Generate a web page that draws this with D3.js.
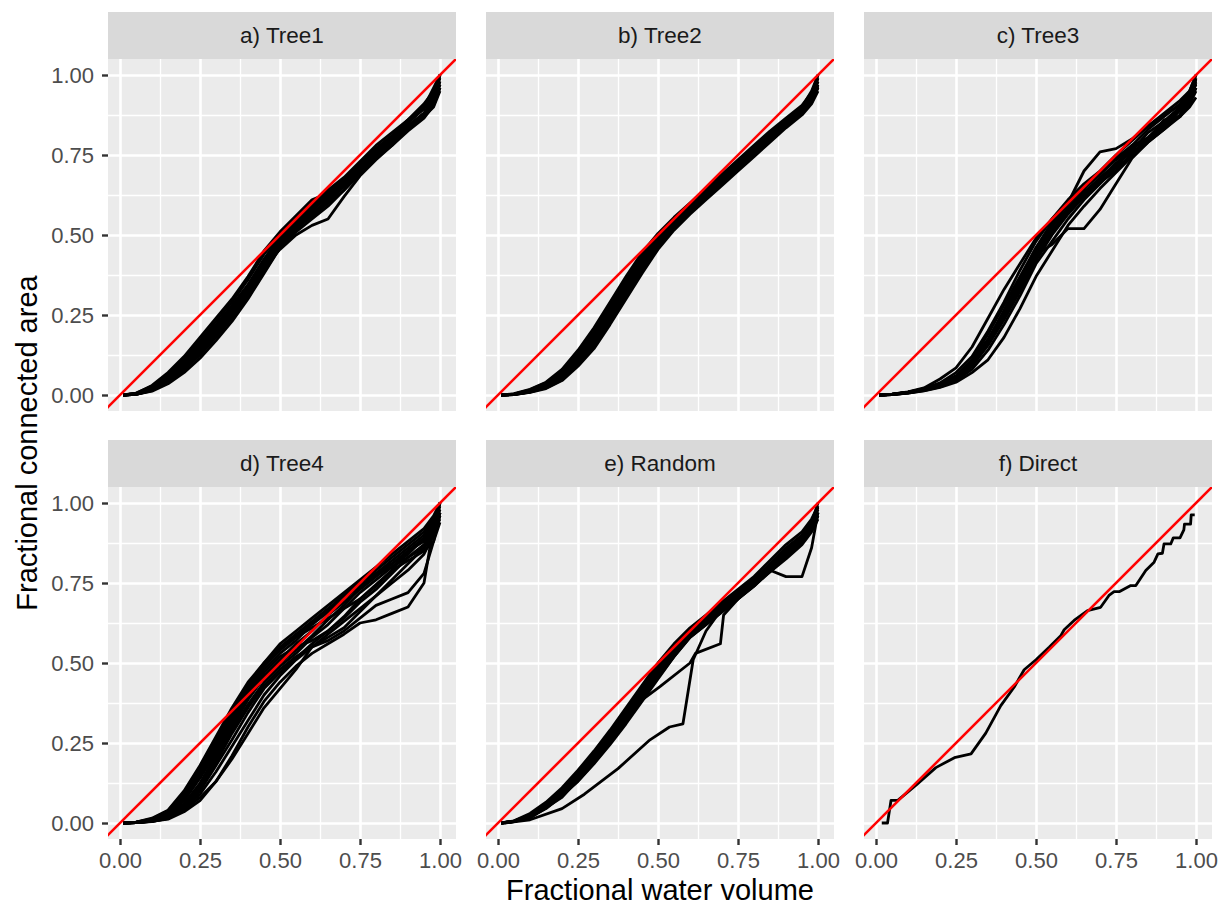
<!DOCTYPE html>
<html>
<head>
<meta charset="utf-8">
<script src="https://d3js.org/d3.v7.min.js"></script>
<style>
  body { margin: 0; background: #fff; }
  svg text { font-family: "Liberation Sans", Arial, Helvetica, sans-serif; }
  .gridlines .domain { stroke: none; }
  .gridlines line { stroke: #fff; }
  .axis .domain { display: none; }
  .axis line { stroke: #333333; stroke-width: 2.4; }
  .axis text { fill: #4D4D4D; font-size: 22px; }
</style>
</head>
<body>
<svg id="chart" width="1220" height="906"></svg>
<script>
// panel titles, axis labels
const panelLabels = ["a) Tree1", "b) Tree2", "c) Tree3", "d) Tree4", "e) Random", "f) Direct"];
const xTitle = "Fractional water volume";
const yTitle = "Fractional connected area";
const majorTicks = [0, 0.25, 0.5, 0.75, 1];
const minorTicks = [0.125, 0.375, 0.625, 0.875];

// shared water volume values for the tree / random runs
const volumeGrid = [0.01, 0.05, 0.1, 0.15, 0.2, 0.25, 0.3, 0.35, 0.4, 0.45, 0.5, 0.55, 0.6, 0.65, 0.7, 0.75, 0.8, 0.85, 0.9, 0.95, 0.98, 1.0];

const tree1Curves = [
  [0, .002, .015, .04, .08, .13, .19, .25, .32, .40, .47, .52, .56, .61, .65, .70, .75, .79, .84, .88, .92, .97],
  [0, .004, .025, .06, .11, .17, .23, .29, .36, .44, .50, .54, .58, .62, .66, .71, .76, .80, .85, .90, .94, 1.0],
  [0, .003, .02, .05, .09, .14, .20, .27, .34, .42, .49, .53, .57, .60, .64, .69, .74, .78, .83, .87, .91, .96],
  [0, .005, .03, .07, .12, .18, .24, .30, .37, .45, .51, .56, .61, .63, .67, .72, .77, .81, .86, .91, .95, .99],
  [0, .002, .012, .035, .07, .115, .17, .23, .30, .38, .46, .51, .55, .59, .64, .70, .75, .80, .84, .88, .93, 1.0],
  [0, .003, .018, .045, .085, .135, .185, .245, .31, .39, .465, .525, .575, .625, .665, .715, .765, .805, .85, .895, .935, .98],
  [0, .004, .022, .055, .10, .155, .21, .27, .335, .41, .48, .535, .585, .63, .67, .72, .755, .79, .83, .87, .90, .95],
  [0, .002, .016, .042, .088, .14, .195, .26, .33, .40, .455, .50, .53, .55, .62, .685, .735, .78, .825, .865, .905, .96],
  [0, .006, .028, .065, .115, .165, .22, .28, .345, .425, .495, .545, .595, .64, .68, .73, .78, .82, .86, .90, .96, 1.0],
  [0, .003, .02, .05, .095, .15, .205, .265, .325, .395, .47, .53, .555, .60, .655, .705, .745, .79, .835, .875, .915, .97],
  [0, .004, .024, .058, .105, .16, .215, .275, .34, .415, .485, .54, .59, .635, .675, .725, .77, .81, .855, .895, .945, .99],
  [0, .002, .014, .038, .078, .125, .18, .24, .305, .385, .46, .515, .565, .615, .66, .71, .755, .795, .84, .88, .92, .98]
];

const tree2Curves = [
  [0, .001, .01, .025, .05, .10, .16, .24, .32, .40, .47, .53, .58, .62, .665, .71, .755, .80, .845, .89, .93, .97],
  [0, .003, .015, .035, .07, .12, .19, .27, .35, .43, .49, .54, .59, .635, .68, .725, .77, .815, .86, .90, .95, 1.0],
  [0, .002, .012, .03, .06, .11, .17, .25, .335, .415, .48, .535, .58, .625, .67, .715, .76, .80, .84, .88, .92, .96],
  [0, .004, .018, .04, .08, .14, .21, .29, .37, .445, .505, .555, .60, .645, .69, .735, .78, .825, .865, .905, .945, .99],
  [0, .001, .008, .02, .045, .09, .145, .22, .30, .38, .455, .515, .565, .61, .655, .70, .745, .79, .835, .875, .91, .95],
  [0, .002, .011, .028, .055, .105, .165, .245, .325, .41, .475, .525, .575, .62, .66, .705, .75, .795, .84, .885, .935, .98],
  [0, .003, .014, .033, .065, .125, .195, .275, .355, .435, .495, .545, .595, .64, .685, .73, .775, .82, .855, .895, .94, 1.0],
  [0, .002, .01, .026, .052, .098, .155, .23, .31, .39, .465, .52, .57, .615, .66, .71, .76, .805, .85, .89, .925, .97],
  [0, .003, .016, .038, .075, .13, .20, .28, .36, .44, .50, .55, .585, .63, .675, .72, .765, .81, .855, .895, .93, .98],
  [0, .002, .012, .03, .058, .108, .17, .255, .34, .42, .485, .53, .575, .625, .67, .72, .765, .80, .845, .885, .92, .965],
  [0, .002, .013, .032, .062, .115, .18, .26, .345, .425, .49, .54, .585, .63, .675, .72, .765, .81, .85, .89, .935, .99],
  [0, .001, .009, .022, .048, .095, .15, .228, .31, .395, .465, .525, .57, .615, .66, .705, .75, .795, .84, .88, .915, .96]
];

const tree3Curves = [
  [0, .002, .008, .017, .03, .05, .09, .16, .24, .33, .43, .51, .58, .63, .68, .72, .78, .80, .86, .87, .92, .96],
  [0, .003, .01, .022, .05, .085, .15, .24, .33, .41, .49, .55, .60, .645, .69, .74, .78, .83, .87, .91, .95, 1.0],
  [0, .001, .006, .014, .025, .045, .08, .14, .22, .31, .41, .48, .55, .61, .66, .71, .75, .80, .84, .87, .90, .93],
  [0, .002, .009, .019, .035, .06, .11, .19, .28, .37, .46, .53, .60, .70, .76, .77, .80, .84, .88, .92, .95, 1.0],
  [0, .001, .007, .015, .028, .05, .095, .16, .245, .33, .44, .47, .52, .52, .58, .66, .74, .79, .83, .87, .91, .96],
  [0, .002, .008, .018, .032, .058, .105, .175, .26, .35, .45, .525, .585, .635, .675, .725, .765, .82, .855, .90, .94, .98],
  [0, .002, .008, .016, .03, .052, .098, .165, .25, .345, .455, .515, .57, .62, .665, .70, .755, .795, .835, .89, .93, .97],
  [0, .003, .009, .02, .038, .07, .12, .20, .29, .39, .48, .55, .61, .66, .70, .75, .795, .84, .875, .905, .935, .99],
  [0, .001, .006, .013, .024, .04, .07, .11, .18, .27, .37, .45, .53, .59, .645, .695, .745, .79, .83, .875, .91, .95],
  [0, .002, .008, .018, .031, .056, .10, .17, .265, .36, .46, .54, .595, .645, .69, .735, .775, .805, .85, .895, .945, .985],
  [0, .002, .008, .017, .03, .054, .10, .17, .255, .35, .44, .51, .575, .63, .675, .715, .77, .80, .845, .89, .92, .975],
  [0, .001, .007, .016, .029, .05, .09, .155, .235, .325, .42, .50, .565, .62, .67, .72, .76, .795, .835, .875, .935, .99]
];

const tree4Curves = [
  [0, .002, .01, .03, .08, .15, .24, .33, .41, .48, .53, .57, .62, .66, .70, .74, .78, .82, .86, .90, .94, .98],
  [0, .001, .006, .02, .06, .12, .20, .29, .37, .44, .49, .53, .58, .62, .67, .72, .76, .80, .84, .89, .93, 1.0],
  [0, .003, .015, .04, .10, .18, .27, .36, .44, .50, .55, .59, .63, .67, .71, .75, .79, .83, .87, .91, .95, 1.0],
  [0, .001, .004, .015, .045, .09, .16, .24, .32, .40, .46, .51, .55, .59, .63, .67, .71, .76, .81, .86, .90, .96],
  [0, .002, .008, .025, .07, .14, .22, .31, .39, .46, .51, .56, .60, .65, .69, .73, .77, .81, .85, .88, .92, .97],
  [0, .001, .005, .014, .04, .08, .13, .20, .28, .36, .42, .48, .55, .57, .60, .64, .68, .70, .72, .78, .88, .97],
  [0, .002, .012, .035, .09, .17, .26, .35, .43, .50, .56, .60, .64, .68, .72, .76, .80, .84, .88, .92, .96, 1.0],
  [0, .001, .005, .012, .035, .07, .13, .21, .30, .38, .44, .49, .53, .56, .59, .625, .635, .655, .675, .75, .93, 1.0],
  [0, .002, .009, .028, .075, .15, .23, .32, .40, .47, .52, .55, .57, .60, .64, .69, .73, .78, .83, .87, .91, .95],
  [0, .001, .007, .02, .055, .11, .19, .28, .36, .43, .48, .52, .55, .58, .61, .66, .71, .75, .79, .84, .90, .97],
  [0, .003, .013, .038, .095, .175, .265, .345, .42, .49, .545, .585, .625, .665, .715, .755, .78, .81, .85, .89, .93, .98],
  [0, .001, .006, .018, .05, .10, .18, .26, .345, .42, .47, .515, .56, .60, .645, .70, .745, .79, .82, .85, .88, .94],
  [0, .002, .011, .032, .085, .16, .25, .34, .42, .49, .54, .58, .61, .64, .67, .70, .74, .79, .85, .89, .93, .99],
  [0, .001, .007, .022, .06, .125, .21, .30, .385, .455, .50, .54, .585, .635, .68, .735, .775, .80, .83, .86, .91, .96]
];

const randomCurves = [
  [0, .005, .02, .05, .09, .14, .20, .26, .33, .40, .47, .53, .59, .63, .67, .71, .75, .80, .85, .89, .93, .97],
  [0, .006, .025, .06, .10, .155, .215, .28, .35, .42, .49, .55, .60, .64, .68, .72, .76, .81, .86, .90, .94, 1.0],
  [0, .004, .018, .045, .085, .13, .185, .245, .31, .38, .45, .52, .58, .62, .66, .70, .74, .79, .84, .88, .92, .96],
  [0, .007, .03, .065, .11, .165, .225, .29, .36, .43, .50, .56, .61, .65, .69, .73, .77, .82, .87, .91, .95, .99],
  [0, .005, .022, .055, .095, .145, .205, .27, .34, .41, .48, .545, .595, .635, .675, .715, .755, .80, .845, .885, .925, .98],
  [0, .004, .02, .048, .088, .135, .19, .255, .32, .39, .46, .525, .585, .625, .665, .705, .745, .785, .825, .87, .91, .95],
  [0, .006, .026, .062, .105, .16, .22, .285, .355, .425, .495, .555, .605, .645, .685, .725, .765, .805, .85, .895, .935, .99],
  [0, .005, .021, .052, .092, .14, .198, .262, .33, .40, .47, .535, .59, .63, .67, .71, .75, .79, .77, .77, .86, .97],
  [0, .005, .023, .056, .098, .15, .21, .275, .345, .415, .485, .55, .60, .64, .68, .72, .76, .805, .855, .895, .935, .985],
  [0, .004, .019, .047, .087, .132, .188, .25, .318, .385, .455, .52, .58, .62, .66, .70, .74, .785, .83, .875, .915, .96]
];

// the two Random runs that fall away from the bundle
const randomOutlierX = [0.02, 0.1, 0.2, 0.27, 0.375, 0.475, 0.536, 0.578, 0.61, 0.65, 0.7, 0.75, 0.8, 0.85, 0.9, 0.95, 0.98, 1.0];
const randomOutlierY = [0, 0.01, 0.045, 0.09, 0.17, 0.26, 0.30, 0.31, 0.51, 0.60, 0.67, 0.715, 0.755, 0.80, 0.85, 0.89, 0.93, 0.97];
const randomLowX = [0.02, 0.1, 0.2, 0.3, 0.4, 0.444, 0.506, 0.6, 0.617, 0.695, 0.705, 0.75, 0.8, 0.85, 0.9, 0.95, 0.98, 1.0];
const randomLowY = [0, 0.015, 0.08, 0.19, 0.32, 0.38, 0.426, 0.50, 0.53, 0.56, 0.65, 0.70, 0.745, 0.79, 0.835, 0.88, 0.92, 0.97];

// direct routing, single run
const directX = [0.018, 0.036, 0.047, 0.068, 0.083, 0.125, 0.187, 0.245, 0.297, 0.343, 0.39, 0.432, 0.463, 0.5, 0.541, 0.578, 0.588, 0.619, 0.661, 0.702, 0.728, 0.744, 0.76, 0.796, 0.812, 0.843, 0.869, 0.881, 0.895, 0.9, 0.921, 0.929, 0.95, 0.962, 0.964, 0.983, 0.985, 0.996];
const directY = [0, 0, 0.071, 0.071, 0.083, 0.118, 0.173, 0.204, 0.216, 0.281, 0.367, 0.425, 0.479, 0.51, 0.549, 0.586, 0.604, 0.633, 0.664, 0.674, 0.711, 0.723, 0.723, 0.742, 0.742, 0.789, 0.815, 0.841, 0.843, 0.872, 0.872, 0.891, 0.891, 0.916, 0.934, 0.934, 0.963, 0.963];

const onGrid = ys => ({x: volumeGrid, y: ys});
const panels = [
  tree1Curves.map(onGrid),
  tree2Curves.map(onGrid),
  tree3Curves.map(onGrid),
  tree4Curves.map(onGrid),
  randomCurves.map(onGrid).concat([{x: randomOutlierX, y: randomOutlierY}, {x: randomLowX, y: randomLowY}]),
  [{x: directX, y: directY}]
];

const svg = d3.select('svg#chart');
const panelW = 348, panelH = 352, stripH = 47;
const colLeft = [108, 486, 864];
const rowTop = [59, 487];

const xScale = d3.scaleLinear().domain([-0.0375, 1.05]).range([0, panelW]);
const yScale = d3.scaleLinear().domain([-0.05, 1.05]).range([panelH, 0]);
const line = d3.line().x(d => xScale(d[0])).y(d => yScale(d[1]));

panels.forEach((curves, i) => {
  const col = i % 3, row = Math.floor(i / 3);
  const g = svg.append('g').attr('transform', `translate(${colLeft[col]},${rowTop[row]})`);

  // strip
  g.append('rect').attr('x', 0).attr('y', -stripH).attr('width', panelW).attr('height', stripH).attr('fill', '#D9D9D9');
  g.append('text').attr('x', panelW / 2).attr('y', -stripH / 2)
    .attr('text-anchor', 'middle').attr('dominant-baseline', 'central')
    .style('font-size', '22.5px').attr('fill', '#1A1A1A').text(panelLabels[i]);

  // panel
  g.append('rect').attr('width', panelW).attr('height', panelH).attr('fill', '#EBEBEB');

  g.append('g').attr('class', 'gridlines').attr('transform', `translate(0,${panelH})`)
    .call(d3.axisBottom(xScale).tickValues(minorTicks).tickSize(-panelH).tickFormat(''))
    .selectAll('line').attr('stroke-width', 1.3);
  g.append('g').attr('class', 'gridlines')
    .call(d3.axisLeft(yScale).tickValues(minorTicks).tickSize(-panelW).tickFormat(''))
    .selectAll('line').attr('stroke-width', 1.3);
  g.append('g').attr('class', 'gridlines').attr('transform', `translate(0,${panelH})`)
    .call(d3.axisBottom(xScale).tickValues(majorTicks).tickSize(-panelH).tickFormat(''))
    .selectAll('line').attr('stroke-width', 2.6);
  g.append('g').attr('class', 'gridlines')
    .call(d3.axisLeft(yScale).tickValues(majorTicks).tickSize(-panelW).tickFormat(''))
    .selectAll('line').attr('stroke-width', 2.6);

  // runs
  curves.forEach(c => {
    const pts = c.x.map((x, k) => [x, c.y[k]]).filter(p => p[1] !== undefined);
    g.append('path').attr('d', line(pts))
      .attr('fill', 'none').attr('stroke', '#000').attr('stroke-width', 2.8)
      .attr('stroke-linejoin', 'round');
  });

  // 1:1 line, clipped to the panel
  g.append('clipPath').attr('id', 'clip' + i)
    .append('rect').attr('width', panelW).attr('height', panelH);
  g.append('path').attr('clip-path', `url(#clip${i})`)
    .attr('d', line([[-0.1, -0.1], [1.1, 1.1]]))
    .attr('fill', 'none').attr('stroke', '#FF0000').attr('stroke-width', 2.6);

  if (col === 0) {
    g.append('g').attr('class', 'axis')
      .call(d3.axisLeft(yScale).tickValues(majorTicks).tickFormat(d3.format('.2f')).tickSize(6).tickPadding(8));
  }
  if (row === 1) {
    g.append('g').attr('class', 'axis').attr('transform', `translate(0,${panelH})`)
      .call(d3.axisBottom(xScale).tickValues(majorTicks).tickFormat(d3.format('.2f')).tickSize(6).tickPadding(7));
  }
});

svg.append('text').attr('x', (colLeft[0] + colLeft[2] + panelW) / 2).attr('y', 899.5)
  .attr('text-anchor', 'middle').style('font-size', '29px').attr('fill', '#000').text(xTitle);
svg.append('text').attr('transform', 'translate(27,443) rotate(-90)')
  .attr('text-anchor', 'middle').attr('dominant-baseline', 'central')
  .style('font-size', '29px').attr('fill', '#000').text(yTitle);
</script>
</body>
</html>
